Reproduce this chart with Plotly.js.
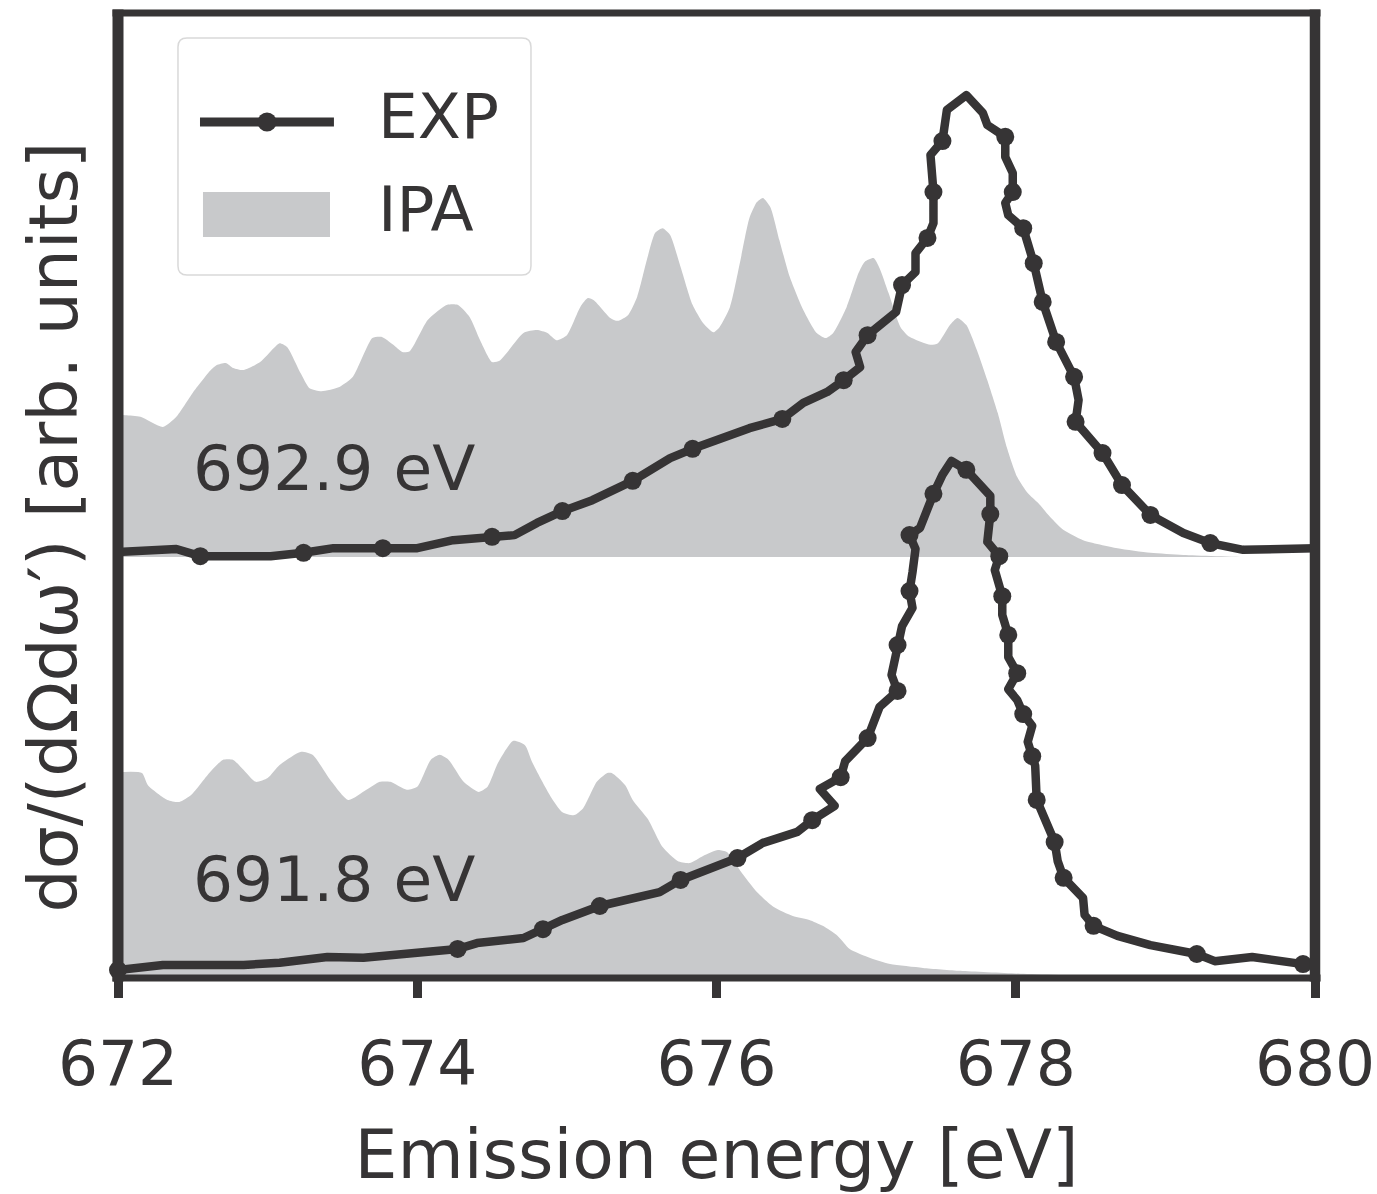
<!DOCTYPE html>
<html>
<head>
<meta charset="utf-8">
<script src="https://cdn.plot.ly/plotly-3.0.1.min.js"></script>
<style>
  html, body { margin: 0; padding: 0; background: #fff; }
  #chart { width: 1377px; height: 1194px; }
  #chart .scatterlayer .js-line { stroke-linejoin: round !important; }
</style>
</head>
<body>
<div id="chart"></div>
<script>
// RIXS spectra at two excitation energies: measured (EXP) and independent-particle (IPA) calculation.
const OFFSET = 1.0;            // vertical shift applied to the 692.9 eV spectrum
const INK = '#363435';
const IPA_GRAY = '#c8c9cb';
const ENERGY_TICKS = [672, 674, 676, 678, 680];

// 692.9 eV excitation
const ipaHighEnergy = [672.00, 672.05, 672.15, 672.30, 672.39, 672.50, 672.62, 672.66, 672.72, 672.77,
  672.84, 672.95, 673.04, 673.08, 673.13, 673.22, 673.28, 673.36, 673.48, 673.57,
  673.70, 673.76, 673.84, 673.90, 673.95, 674.07, 674.20, 674.27, 674.35, 674.42,
  674.50, 674.55, 674.71, 674.80, 674.87, 674.93, 675.00, 675.09, 675.14, 675.18,
  675.29, 675.34, 675.41, 675.47, 675.54, 675.59, 675.64, 675.69, 675.76, 675.84,
  675.91, 675.98, 676.02, 676.09, 676.16, 676.22, 676.27, 676.31, 676.36, 676.42,
  676.49, 676.58, 676.67, 676.73, 676.78, 676.87, 676.95, 676.99, 677.05, 677.09,
  677.15, 677.23, 677.29, 677.43, 677.48, 677.56, 677.61, 677.67, 677.74, 677.81,
  677.88, 677.94, 678.01, 678.08, 678.15, 678.23, 678.32, 678.45, 678.68, 678.90,
  679.12, 679.57, 680.00];
const ipaHighIntensity = [0.337, 0.337, 0.333, 0.309, 0.333, 0.390, 0.444, 0.456, 0.461, 0.449,
  0.444, 0.463, 0.496, 0.508, 0.499, 0.437, 0.401, 0.394, 0.404, 0.428,
  0.520, 0.523, 0.504, 0.487, 0.489, 0.563, 0.599, 0.599, 0.570, 0.515,
  0.463, 0.466, 0.532, 0.539, 0.532, 0.515, 0.527, 0.594, 0.615, 0.610,
  0.568, 0.561, 0.575, 0.618, 0.713, 0.770, 0.781, 0.765, 0.689, 0.599,
  0.556, 0.534, 0.546, 0.594, 0.705, 0.805, 0.843, 0.853, 0.831, 0.753,
  0.665, 0.587, 0.532, 0.520, 0.532, 0.594, 0.675, 0.701, 0.710, 0.686,
  0.627, 0.546, 0.523, 0.504, 0.508, 0.551, 0.568, 0.551, 0.492, 0.420,
  0.342, 0.261, 0.190, 0.152, 0.128, 0.095, 0.064, 0.040, 0.021, 0.010,
  0.005, 0.000, 0.000];

const expHighEnergy = [672.00, 672.39, 672.55, 673.02, 673.24, 673.44, 673.77, 674.00, 674.24, 674.50,
  674.65, 674.80, 674.97, 675.17, 675.44, 675.69, 675.84, 676.22, 676.44, 676.58,
  676.74, 676.85, 676.96, 676.93, 677.01, 677.20, 677.24, 677.33, 677.33, 677.41,
  677.45, 677.45, 677.43, 677.51, 677.54, 677.67, 677.78, 677.81, 677.93, 677.93,
  677.98, 677.98, 677.93, 677.95, 678.05, 678.12, 678.18, 678.27, 678.39, 678.42,
  678.40, 678.58, 678.71, 678.90, 679.12, 679.30, 679.52, 680.00];
const expHighIntensity = [0.012, 0.019, 0.002, 0.002, 0.010, 0.021, 0.021, 0.021, 0.040, 0.048,
  0.052, 0.081, 0.109, 0.135, 0.181, 0.235, 0.257, 0.306, 0.328, 0.366,
  0.392, 0.420, 0.451, 0.487, 0.527, 0.582, 0.646, 0.677, 0.722, 0.758,
  0.793, 0.867, 0.955, 0.988, 1.062, 1.097, 1.055, 1.026, 0.998, 0.950,
  0.912, 0.867, 0.841, 0.812, 0.781, 0.698, 0.606, 0.511, 0.428, 0.373,
  0.321, 0.247, 0.171, 0.100, 0.057, 0.033, 0.017, 0.021];
const expHighMarked = [0, 0, 1, 0, 1, 0, 1, 0, 0, 1,
  0, 0, 1, 0, 1, 0, 1, 0, 1, 0,
  0, 1, 0, 0, 1, 0, 1, 0, 0, 1,
  0, 1, 0, 1, 0, 0, 0, 0, 1, 0,
  0, 1, 0, 0, 1, 1, 1, 1, 1, 0,
  1, 1, 1, 1, 0, 1, 0, 0];

// 691.8 eV excitation
const ipaLowEnergy = [672.00, 672.16, 672.20, 672.33, 672.41, 672.49, 672.61, 672.70, 672.77, 672.84,
  672.92, 673.00, 673.08, 673.22, 673.30, 673.42, 673.54, 673.66, 673.75, 673.82,
  673.93, 674.00, 674.09, 674.15, 674.21, 674.31, 674.41, 674.47, 674.54, 674.64,
  674.72, 674.77, 674.89, 674.97, 675.05, 675.11, 675.20, 675.27, 675.30, 675.39,
  675.44, 675.54, 675.64, 675.74, 675.82, 675.91, 676.01, 676.07, 676.16, 676.27,
  676.38, 676.51, 676.62, 676.71, 676.81, 676.89, 677.01, 677.16, 677.38, 677.63,
  678.03, 678.56, 679.23, 680.00];
const ipaLowIntensity = [0.489, 0.487, 0.458, 0.423, 0.418, 0.435, 0.487, 0.518, 0.518, 0.494,
  0.466, 0.475, 0.506, 0.537, 0.530, 0.470, 0.423, 0.447, 0.466, 0.466,
  0.447, 0.454, 0.518, 0.530, 0.518, 0.466, 0.442, 0.454, 0.511, 0.563,
  0.553, 0.511, 0.432, 0.394, 0.387, 0.404, 0.466, 0.487, 0.487, 0.458,
  0.423, 0.378, 0.311, 0.278, 0.273, 0.290, 0.304, 0.299, 0.254, 0.204,
  0.169, 0.147, 0.138, 0.124, 0.100, 0.069, 0.050, 0.033, 0.024, 0.017,
  0.010, 0.005, 0.001, 0.000];

const expLowEnergy = [672.00, 672.30, 672.84, 673.08, 673.40, 673.64, 674.27, 674.40, 674.71, 674.84,
  674.97, 675.22, 675.62, 675.76, 676.14, 676.31, 676.54, 676.64, 676.79, 676.69,
  676.83, 676.86, 677.01, 677.09, 677.21, 677.17, 677.21, 677.24, 677.31, 677.29,
  677.31, 677.33, 677.29, 677.36, 677.45, 677.51, 677.57, 677.67, 677.83, 677.83,
  677.81, 677.89, 677.86, 677.91, 677.91, 677.95, 677.95, 678.01, 677.95, 678.01,
  678.05, 678.11, 678.08, 678.11, 678.13, 678.14, 678.18, 678.26, 678.28, 678.32,
  678.45, 678.46, 678.52, 678.68, 678.90, 679.21, 679.33, 679.58, 679.92];
const expLowIntensity = [0.019, 0.031, 0.031, 0.036, 0.050, 0.048, 0.069, 0.083, 0.095, 0.116,
  0.138, 0.171, 0.204, 0.233, 0.285, 0.321, 0.347, 0.375, 0.409, 0.449,
  0.477, 0.515, 0.570, 0.644, 0.682, 0.720, 0.791, 0.836, 0.879, 0.919,
  0.964, 1.019, 1.052, 1.069, 1.150, 1.195, 1.228, 1.207, 1.145, 1.102,
  1.036, 1.002, 0.969, 0.907, 0.862, 0.815, 0.762, 0.724, 0.686, 0.660,
  0.627, 0.599, 0.561, 0.527, 0.504, 0.423, 0.387, 0.323, 0.278, 0.238,
  0.190, 0.150, 0.124, 0.100, 0.078, 0.057, 0.040, 0.050, 0.033];
const expLowMarked = [1, 0, 0, 0, 0, 0, 1, 0, 0, 1,
  0, 1, 0, 1, 1, 0, 0, 1, 0, 0,
  1, 0, 1, 0, 1, 0, 1, 0, 0, 1,
  0, 0, 1, 0, 1, 0, 0, 1, 0, 1,
  0, 1, 0, 1, 0, 1, 0, 1, 0, 0,
  1, 0, 0, 1, 0, 1, 0, 1, 0, 1,
  0, 0, 1, 0, 0, 1, 0, 0, 1];

const SPECTRUM_LABELS = ['692.9 eV', '691.8 eV'];
const LEGEND_LABELS = ['EXP', 'IPA'];
const Y_TITLE = 'dσ/(dΩdω′) [arb. units]';
const X_TITLE = 'Emission energy [eV]';

const shift = (arr, d) => arr.map(v => v + d);
const pick = (arr, flags) => arr.filter((_, i) => flags[i]);

// measured curve: a solid line through every point, dots on the flagged ones
const expLine = (x, y) => ({
  x, y, mode: 'lines', line: { color: INK, width: 8.5 },
  hoverinfo: 'skip', showlegend: false
});
const expDots = (x, y) => ({
  x, y, mode: 'markers', opacity: 1,
  marker: { color: INK, size: 18, opacity: 1, line: { width: 0 } },
  cliponaxis: false, hoverinfo: 'skip', showlegend: false
});

const expHighY = shift(expHighIntensity, OFFSET);
const traces = [
  // baseline that the shifted IPA area is filled down to
  { x: [ENERGY_TICKS[0], ENERGY_TICKS[ENERGY_TICKS.length - 1]], y: [OFFSET, OFFSET],
    mode: 'lines', line: { width: 0, color: 'rgba(0,0,0,0)' }, hoverinfo: 'skip', showlegend: false },
  { x: ipaHighEnergy, y: shift(ipaHighIntensity, OFFSET), mode: 'lines',
    line: { width: 0, color: IPA_GRAY, shape: 'spline', smoothing: 0.6 },
    fill: 'tonexty', fillcolor: IPA_GRAY, hoverinfo: 'skip', showlegend: false },
  { x: ipaLowEnergy, y: ipaLowIntensity, mode: 'lines',
    line: { width: 0, color: IPA_GRAY, shape: 'spline', smoothing: 0.6 },
    fill: 'tozeroy', fillcolor: IPA_GRAY, hoverinfo: 'skip', showlegend: false },
  expLine(expLowEnergy, expLowIntensity),
  expDots(pick(expLowEnergy, expLowMarked), pick(expLowIntensity, expLowMarked)),
  expLine(expHighEnergy, expHighY),
  expDots(pick(expHighEnergy, expHighMarked), pick(expHighY, expHighMarked))
];

// frame: thicker vertical spines, thinner horizontal ones
const W = 1197, H = 965;   // plot area in px
const px = v => v / W, py = v => v / H;
const spine = (x0, x1, y0, y1, w) => ({ type: 'line', xref: 'paper', yref: 'paper',
  x0, x1, y0, y1, line: { color: INK, width: w }, layer: 'above' });

// legend box with rounded corners
const bx0 = 0.0501, bx1 = 0.3450, by0 = 0.7285, by1 = 0.9741, rx = px(9), ry = py(9);
const legendBox = {
  type: 'path', xref: 'paper', yref: 'paper', layer: 'above',
  path: `M ${bx0 + rx},${by1} L ${bx1 - rx},${by1} Q ${bx1},${by1} ${bx1},${by1 - ry} ` +
        `L ${bx1},${by0 + ry} Q ${bx1},${by0} ${bx1 - rx},${by0} L ${bx0 + rx},${by0} ` +
        `Q ${bx0},${by0} ${bx0},${by0 + ry} L ${bx0},${by1 - ry} Q ${bx0},${by1} ${bx0 + rx},${by1} Z`,
  fillcolor: '#ffffff', line: { color: '#d9d9d9', width: 1.5 }
};
const legY = 0.8870, legMx = 0.1245;
const shapes = [
  spine(-px(5.5), 1 + px(5.5), 1, 1, 7),
  spine(-px(5.5), 1 + px(5.5), 0, 0, 7),
  spine(0, 0, -py(3.5), 1 + py(3.5), 11),
  spine(1, 1, -py(3.5), 1 + py(3.5), 10.5),
  legendBox,
  { type: 'line', xref: 'paper', yref: 'paper', x0: 0.0685, x1: 0.1804, y0: legY, y1: legY,
    line: { color: INK, width: 9 }, layer: 'above' },
  { type: 'circle', xref: 'paper', yref: 'paper', x0: legMx - px(9.5), x1: legMx + px(9.5),
    y0: legY - py(9.5), y1: legY + py(9.5), fillcolor: INK, line: { width: 0 }, layer: 'above' },
  { type: 'rect', xref: 'paper', yref: 'paper', x0: 0.0710, x1: 0.1771, y0: 0.7679, y1: 0.8145,
    fillcolor: IPA_GRAY, line: { width: 0 }, layer: 'above' }
];

const textFont = { family: 'DejaVu Sans', size: 63, color: INK };
const annotations = [
  { xref: 'paper', yref: 'paper', x: 0.2155, y: 0.8927, xanchor: 'left', yanchor: 'middle',
    text: LEGEND_LABELS[0], showarrow: false, font: textFont },
  { xref: 'paper', yref: 'paper', x: 0.2155, y: 0.7959, xanchor: 'left', yanchor: 'middle',
    text: LEGEND_LABELS[1], showarrow: false, font: textFont },
  { xref: 'x', yref: 'y', x: 672.49, y: OFFSET + 0.21, xanchor: 'left', yanchor: 'middle',
    text: SPECTRUM_LABELS[0], showarrow: false, font: textFont },
  { xref: 'x', yref: 'y', x: 672.49, y: 0.233, xanchor: 'left', yanchor: 'middle',
    text: SPECTRUM_LABELS[1], showarrow: false, font: textFont },
  // y-axis title, set slightly below the axis midpoint
  { xref: 'paper', yref: 'paper', x: -0.0535, y: 0.4679, xanchor: 'center', yanchor: 'middle',
    textangle: -90, text: Y_TITLE, showarrow: false,
    font: { family: 'DejaVu Sans', size: 68, color: INK } }
];

const layout = {
  width: 1377, height: 1194,
  margin: { l: 118, r: 62, t: 13, b: 216, pad: 0 },
  paper_bgcolor: '#ffffff', plot_bgcolor: '#ffffff',
  showlegend: false,
  font: { family: 'DejaVu Sans', color: INK },
  xaxis: {
    range: [672, 680], tickvals: ENERGY_TICKS, ticks: 'outside', ticklen: 19, tickwidth: 9,
    tickcolor: INK, tickfont: { family: 'DejaVu Sans', size: 63, color: INK }, ticklabelstandoff: 11,
    showgrid: false, zeroline: false, showline: false,
    title: { text: X_TITLE, font: { family: 'DejaVu Sans', size: 68, color: INK }, standoff: 60 }
  },
  yaxis: {
    range: [0, 2.2922], showticklabels: false, ticks: '', showgrid: false, zeroline: false, showline: false
  },
  shapes, annotations
};

Plotly.newPlot('chart', traces, layout, { staticPlot: true, displayModeBar: false });
</script>
</body>
</html>
